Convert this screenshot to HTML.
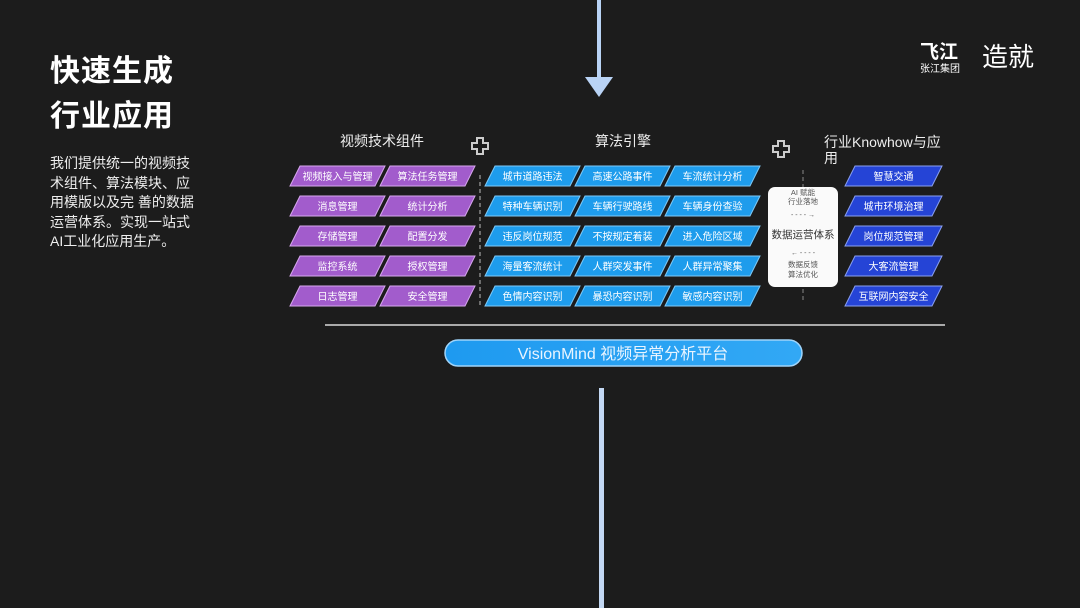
<!DOCTYPE html>
<html><head><meta charset="utf-8"><style>
html,body{margin:0;padding:0;background:#1c1c1c;}
body{width:1080px;height:608px;position:relative;overflow:hidden;font-family:"Liberation Sans","Noto Sans CJK SC",sans-serif;color:#fff;}
.t{position:absolute;left:50px;font-size:30px;font-weight:bold;letter-spacing:1px;}
.p{position:absolute;left:50px;top:154px;width:200px;font-size:14px;line-height:19.5px;color:#eee;white-space:nowrap;}
</style></head><body>
<div class="t" style="top:46px">快速生成</div>
<div class="t" style="top:91px">行业应用</div>
<div class="p">我们提供统一的视频技<br>术组件、算法模块、应<br>用模版以及完 善的数据<br>运营体系。实现一站式<br>AI工业化应用生产。</div>
<svg width="1080" height="608" style="position:absolute;left:0;top:0" font-family="Liberation Sans, Noto Sans CJK SC, sans-serif">
<defs><linearGradient id="pg" x1="0" x2="1"><stop offset="0" stop-color="#1e9af0"/><stop offset="1" stop-color="#32a8f5"/></linearGradient></defs>
<rect x="597" y="0" width="4" height="80" fill="#b9d3f5"/>
<polygon points="585,77 613,77 599,97" fill="#b9d3f5"/>
<rect x="599" y="388" width="5" height="220" fill="#c3d8f3"/>
<g fill="#fff">
<text x="920" y="58" font-size="19" font-weight="bold">飞江</text>
<text x="920" y="72" font-size="10">张江集团</text>
<text x="982" y="66" font-size="26">造就</text>
</g>
<text x="382" y="146" font-size="14" fill="#eee" text-anchor="middle">视频技术组件</text>
<text x="623" y="146" font-size="14" fill="#eee" text-anchor="middle">算法引擎</text>
<text x="824" y="147" font-size="14" fill="#eee">行业Knowhow与应</text>
<text x="824" y="163" font-size="14" fill="#eee">用</text>
<g fill="none" stroke="#ccc" stroke-width="2">
<path d="M477,138 h6 v5 h5 v6 h-5 v5 h-6 v-5 h-5 v-6 h5 z"/>
<path d="M778,141 h6 v5 h5 v6 h-5 v5 h-6 v-5 h-5 v-6 h5 z"/>
</g>
<line x1="480" y1="175" x2="480" y2="305" stroke="#888" stroke-width="1.5" stroke-dasharray="4,3"/>
<line x1="803" y1="170" x2="803" y2="300" stroke="#888" stroke-width="1" stroke-dasharray="4,3"/>
<g id="rows" font-size="10" fill="#fff" text-anchor="middle"></g>
<rect x="768" y="187" width="70" height="100" rx="7" fill="#fafafa"/>
<g fill="#555" text-anchor="middle" font-size="7.5">
<text x="803" y="195">AI 赋能</text>
<text x="803" y="204">行业落地</text>
<text x="803" y="217" font-size="7">- - - - →</text>
<text x="803" y="238" font-size="10.5" fill="#333">数据运营体系</text>
<text x="803" y="255" font-size="7">← - - - -</text>
<text x="803" y="267">数据反馈</text>
<text x="803" y="277">算法优化</text>
</g>
<line x1="325" y1="325" x2="945" y2="325" stroke="#aaa" stroke-width="2"/>
<rect x="445" y="340" width="357" height="26" rx="13" fill="url(#pg)" stroke="#9fd4fa" stroke-width="1.5"/>
<text x="623" y="359" font-size="16" fill="#e8f4ff" text-anchor="middle">VisionMind 视频异常分析平台</text>
</svg>
<script>
var g=document.getElementById('rows');var s='';
var ys=[166,196,226,256,286];
function pb(x0,x1,y,fill,stroke,txt){s+='<polygon points="'+(x0+10)+','+y+' '+x1+','+y+' '+(x1-10)+','+(y+20)+' '+x0+','+(y+20)+'" fill="'+fill+'" stroke="'+stroke+'" stroke-width="1"/>';s+='<text x="'+((x0+x1)/2)+'" y="'+(y+14)+'">'+txt+'</text>';}
var P=[["视频接入与管理","算法任务管理"],["消息管理","统计分析"],["存储管理","配置分发"],["监控系统","授权管理"],["日志管理","安全管理"]];
var B=[["城市道路违法","高速公路事件","车流统计分析"],["特种车辆识别","车辆行驶路线","车辆身份查验"],["违反岗位规范","不按规定着装","进入危险区域"],["海量客流统计","人群突发事件","人群异常聚集"],["色情内容识别","暴恐内容识别","敏感内容识别"]];
var D=["智慧交通","城市环境治理","岗位规范管理","大客流管理","互联网内容安全"];
for(var i=0;i<5;i++){var y=ys[i];
pb(290,385,y,"#a25ccc","#d7a7ee",P[i][0]);pb(380,475,y,"#a25ccc","#d7a7ee",P[i][1]);
pb(485,580,y,"#1e9cec","#7fcaf7",B[i][0]);pb(575,670,y,"#1e9cec","#7fcaf7",B[i][1]);pb(665,760,y,"#1e9cec","#7fcaf7",B[i][2]);
pb(845,942,y,"#2544d6","#8aa0f0",D[i]);}
g.innerHTML=s;
</script>
</body></html>
